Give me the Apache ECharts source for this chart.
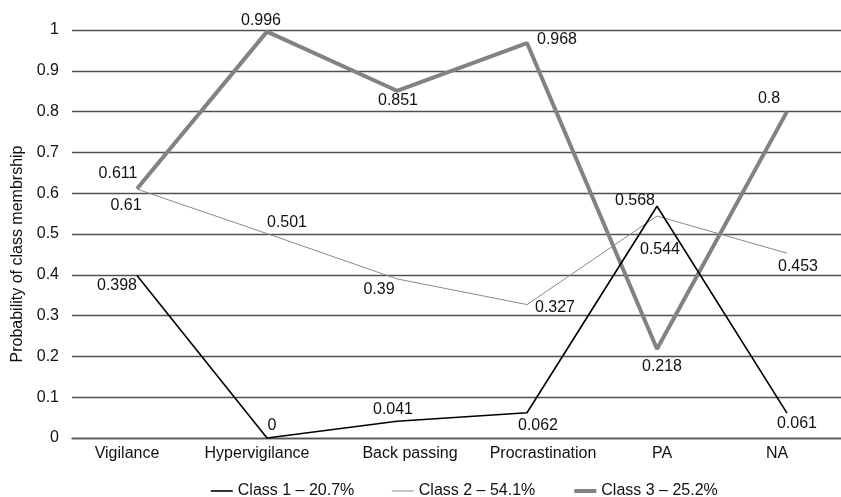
<!DOCTYPE html>
<html>
<head>
<meta charset="utf-8">
<script src="https://cdn.jsdelivr.net/npm/echarts@6/dist/echarts.min.js"></script>
<style>html,body{margin:0;padding:0;background:#fff;overflow:hidden;width:841px;height:497px;}#c{width:852px;height:497px;}</style>
</head>
<body>
<div id="c"></div>
<script>
const categories = ['Vigilance', 'Hypervigilance', 'Back passing', 'Procrastination', 'PA', 'NA'];
const seriesNames = ['Class 1 \u2013 20.7%', 'Class 2 \u2013 54.1%', 'Class 3 \u2013 25.2%'];
const class1 = [0.398, 0, 0.041, 0.062, 0.568, 0.061];
const class2 = [0.61, 0.501, 0.39, 0.327, 0.544, 0.453];
const class3 = [0.611, 0.996, 0.851, 0.968, 0.218, 0.8];
const yTicks = [0, 0.1, 0.2, 0.3, 0.4, 0.5, 0.6, 0.7, 0.8, 0.9, 1];

// label placement (pixel offsets from each point), styling only
const labelOffsets = [
  [[-20, 10], [5, -12], [-4, -12], [11, 13], [-22, -6], [10, 10]],
  [[-11, 16], [20, -11], [-18, 11], [28, 3], [3, 34], [11, 13]],
  [[-19, -15], [-6, -11], [1, 10], [30, -3], [5, 18], [-18, -13]]
];
const catLabelShift = [-10, -10, 13, 16, 5, -10];
const lineStyles = [
  {color: '#000000', width: 1.6},
  {color: '#8a8a8a', width: 1},
  {color: '#828282', width: 4}
];

const all = [class1, class2, class3];
const chart = echarts.init(document.getElementById('c'));
const font = 'Liberation Sans, Arial, sans-serif';

chart.setOption({
  animation: false,
  backgroundColor: '#ffffff',
  textStyle: {fontFamily: font},
  grid: {left: 72, top: 30, width: 780, height: 408, containLabel: false},
  legend: {
    left: 205, top: 478,
    itemWidth: 22, itemHeight: 14, itemGap: 37,
    itemStyle: {opacity: 0},
    textStyle: {fontSize: 16, color: '#111', fontFamily: font},
    data: seriesNames.map((n, s) => ({name: n, lineStyle: {color: lineStyles[s].color, width: lineStyles[s].width}}))
  },
  xAxis: {
    type: 'category',
    data: categories.map((c, i) => ({value: c, textStyle: {padding: catLabelShift[i] > 0 ? [0, 0, 0, 2 * catLabelShift[i]] : [0, -2 * catLabelShift[i], 0, 0]}})),
    boundaryGap: true,
    axisLine: {show: true, lineStyle: {color: '#555', width: 1.3}},
    axisTick: {show: false},
    axisLabel: {fontSize: 16, color: '#111', margin: 8, interval: 0, fontFamily: font},
    splitLine: {show: false}
  },
  yAxis: {
    type: 'value', min: 0, max: 1, interval: 0.1,
    name: 'Probability of class membrship',
    nameLocation: 'middle', nameGap: 44,
    nameTextStyle: {fontSize: 16, color: '#111', fontFamily: font, padding: [0, 40, 0, 0]},
    axisLine: {show: false}, axisTick: {show: false},
    axisLabel: {fontSize: 16, color: '#111', margin: 13, fontFamily: font,
      formatter: v => { const t = yTicks.find(x => Math.abs(x - v) < 1e-9); return t === undefined ? '' : String(t); }},
    splitLine: {lineStyle: {color: '#505050', width: 1.3}}
  },
  series: all.map((vals, s) => ({
    name: seriesNames[s],
    type: 'line',
    symbol: 'circle', symbolSize: 0,
    itemStyle: {color: lineStyles[s].color},
    lineStyle: {color: lineStyles[s].color, width: lineStyles[s].width},
    z: 3 - s,
    data: vals.map((v, i) => ({
      value: v,
      label: {
        show: true, position: 'inside', align: 'center', verticalAlign: 'middle',
        offset: labelOffsets[s][i], fontSize: 16, color: '#111', fontFamily: font,
        textBorderWidth: 0,
        formatter: String(v)
      }
    }))
  }))
});
</script>
</body>
</html>
